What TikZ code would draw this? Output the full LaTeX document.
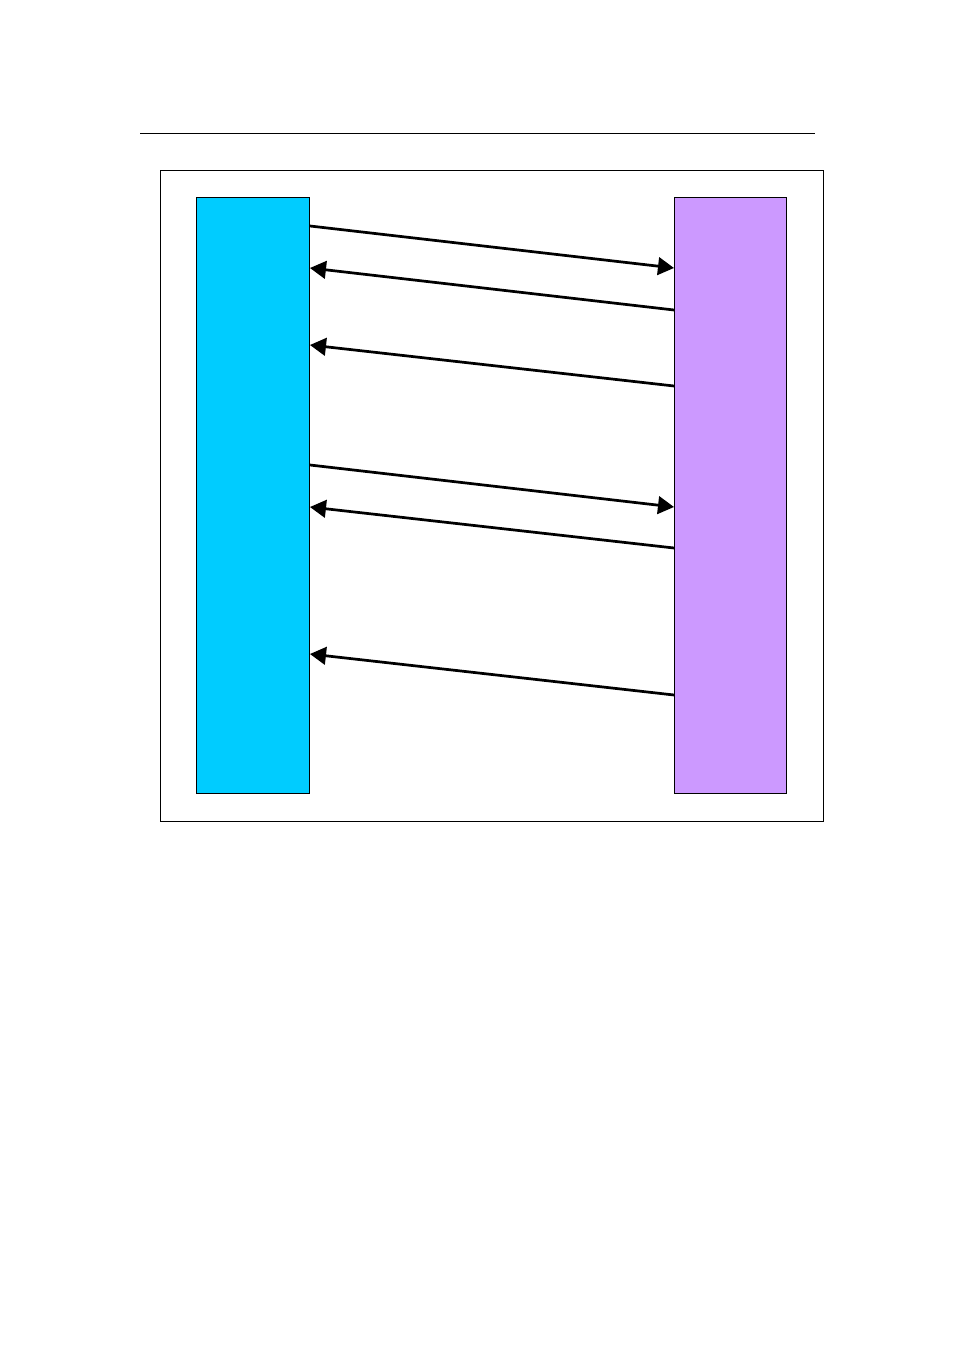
\documentclass[tikz,border=0pt]{standalone}
\usetikzlibrary{arrows.meta}
\usetikzlibrary{positioning}
\tikzset{msg/.style = {line width=1.7pt, -{Triangle[length=10pt,width=11pt]}}}
\tikzset{bar/.style = {draw, line width=0.6pt, inner sep=0pt,
                       minimum width=112*0.624pt, minimum height=596*0.624pt}}
\definecolor{mcyan}{rgb}{0, 0.8, 1}
\definecolor{mlilac}{rgb}{0.8, 0.6, 1}

\begin{document}
\begin{tikzpicture}[x=0.624pt, y=-0.624pt]
    \useasboundingbox (0, 0) rectangle (954, 1351);
    \draw [line width=0.6pt] (140, 133) -- (815, 133);
    \draw [line width=0.6pt] (160, 170) rectangle (823, 821);

    \node [bar, fill=mcyan, anchor=north west, minimum width=113*0.624pt] (left) at (196, 197) {};
    \node [bar, fill=mlilac, anchor=north west] (right) at (674, 197) {};

    \coordinate (l1) at (left.east |- 0, 226);
    \coordinate (r1) at (right.west |- 0, 268);
    \coordinate (r2) at (right.west |- 0, 310);
    \coordinate (l2) at (left.east |- 0, 268);
    \coordinate (r3) at (right.west |- 0, 386);
    \coordinate (l3) at (left.east |- 0, 345);
    \coordinate (l4) at (left.east |- 0, 465);
    \coordinate (r4) at (right.west |- 0, 507);
    \coordinate (r5) at (right.west |- 0, 548);
    \coordinate (l5) at (left.east |- 0, 507);
    \coordinate (r6) at (right.west |- 0, 695);
    \coordinate (l6) at (left.east |- 0, 654);

    \draw [msg] (l1) -- (r1);
    \draw [msg] (r2) -- (l2);
    \draw [msg] (r3) -- (l3);
    \draw [msg] (l4) -- (r4);
    \draw [msg] (r5) -- (l5);
    \draw [msg] (r6) -- (l6);
\end{tikzpicture}
\end{document}
